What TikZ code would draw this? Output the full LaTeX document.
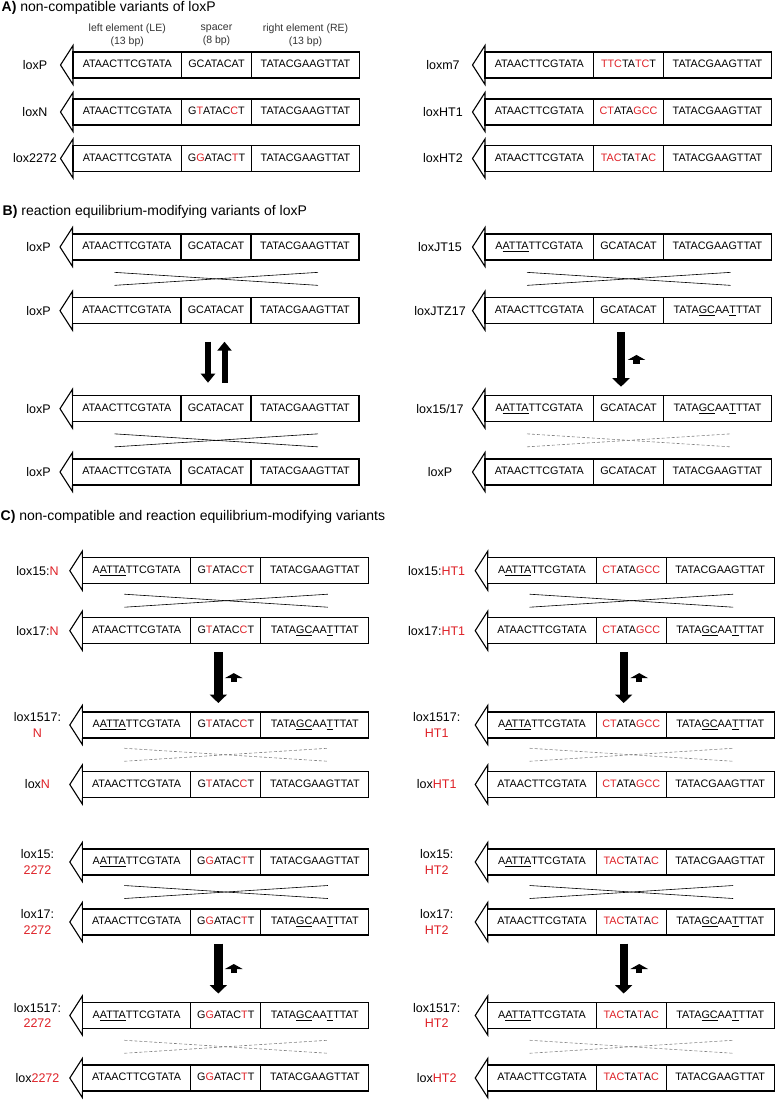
\documentclass[tikz,border=0pt]{standalone}
\usepackage{fontspec}
\setmainfont{Liberation Sans}
\usetikzlibrary{positioning,calc,arrows.meta}
\definecolor{loxred}{RGB}{222,32,38}

\newcommand{\mutred}[1]{\textcolor{loxred}{#1}}
\newcommand{\mutul}[1]{\underline{#1}}
% elements and spacers
\newcommand{\LEwt}{ATAACTTCGTATA}
\newcommand{\REwt}{TATACGAAGTTAT}
\newcommand{\LEjt}{A\mutul{ATTA}TTCGTATA}
\newcommand{\REjtz}{TATA\mutul{GC}AA\mutul{T}TTAT}
\newcommand{\SPwt}{GCATACAT}
\newcommand{\SPn}{G\mutred{T}ATAC\mutred{C}T}
\newcommand{\SPtt}{G\mutred{G}ATAC\mutred{T}T}
\newcommand{\SPm}{\mutred{TTC}TA\mutred{TC}T}
\newcommand{\SPha}{\mutred{CT}ATA\mutred{GCC}}
\newcommand{\SPhb}{\mutred{TAC}TA\mutred{T}A\mutred{C}}

% name, box x, y, label x, label, LE, spacer, RE
\newcommand{\loxsite}[8]{%
  \node[seqcell,minimum width=108.5pt,anchor=west] (#1-le) at (#2,#3) {#6};
  \node[seqcell,minimum width=70pt,right=0pt of #1-le] (#1-sp) {#7};
  \node[seqcell,minimum width=108pt,right=0pt of #1-sp] (#1-re) {#8};
  \draw[siteline] (#1-le.north west) -- ++(0,6.5pt) -- ([xshift=-12.5pt]#1-le.west)
    -- ([yshift=-6.5pt]#1-le.south west) -- (#1-le.south west);
  \node[sitelabel] (#1-lab) at (#4,#3) {#5};
}
\newcommand{\crossover}[3]{%
  \coordinate (#1-#2-l) at ($(#1-le.south west)!.5!(#2-le.north west)$);
  \coordinate (#1-#2-r) at ($(#1-re.south east)!.5!(#2-re.north east)$);
  \draw[#3] ([shift={(42pt,6.5pt)}]#1-#2-l) -- ([shift={(-41pt,-6.5pt)}]#1-#2-r);
  \draw[#3] ([shift={(42pt,-6.5pt)}]#1-#2-l) -- ([shift={(-41pt,6.5pt)}]#1-#2-r);
}
\newcommand{\recomb}[2]{%
  \coordinate (#1-go) at ([xshift=-7.5pt,yshift=-8.5pt]#1-sp.south);
  \coordinate (#2-in) at ([xshift=-7.5pt,yshift=9pt]#2-sp.north);
  \draw[bigarrow] (#1-go) -- (#2-in);
  \coordinate (#1-#2-m) at ($(#1-go)!.5!(#2-in)$);
  \draw[nudge] ([xshift=15.5pt,yshift=-4.5pt]#1-#2-m) -- ([xshift=15.5pt,yshift=4.5pt]#1-#2-m);
}

\tikzset{
  seqcell/.style={draw,line width=1.1pt,minimum height=26pt,inner sep=0pt,outer sep=0pt,
    text height=7.6pt,text depth=2pt,font=\fontsize{10.8}{12}\selectfont},
  siteline/.style={line width=1.1pt,line join=miter},
  sitelabel/.style={align=center,inner sep=0pt,font=\fontsize{12.5}{15.3}\selectfont},
  headtext/.style={align=center,inner sep=0pt,text=black!80,font=\fontsize{10.5}{12.7}\selectfont},
  titletext/.style={inner sep=0pt,font=\fontsize{14}{16}\selectfont},
  xsolid/.style={line width=0.6pt},
  xdash/.style={line width=0.6pt,gray,dash pattern=on 3pt off 2pt},
  bigarrow/.style={line width=8.4pt,-{Triangle[length=8.5pt,width=17pt]}},
  eqarrow/.style={line width=6pt,-{Triangle[length=9pt,width=14pt]}},
  nudge/.style={line width=6.5pt,-{Triangle[length=5pt,width=17.5pt]}}
}

\begin{document}
\begin{tikzpicture}[x=1pt,y=-1pt]
\useasboundingbox (0,0) rectangle (776,1100);

\node[titletext,anchor=base west] (titleA) at (1.5,12) {\textbf{A)} non-compatible variants of loxP};
\loxsite{ap}{73}{65}{35}{loxP}{\LEwt}{\SPwt}{\REwt}
\loxsite{an}{73}{112}{35}{loxN}{\LEwt}{\SPn}{\REwt}
\loxsite{att}{73}{158.5}{35}{lox2272}{\LEwt}{\SPtt}{\REwt}
\loxsite{am}{485}{65}{443}{loxm7}{\LEwt}{\SPm}{\REwt}
\loxsite{aha}{485}{112}{443}{loxHT1}{\LEwt}{\SPha}{\REwt}
\loxsite{ahb}{485}{158.5}{443}{loxHT2}{\LEwt}{\SPhb}{\REwt}
\node[headtext] (headle) at ([yshift=17pt]ap-le.north) {left element (LE)\\(13 bp)};
\node[headtext] (headsp) at ([yshift=17pt]ap-sp.north) {spacer\\(8 bp)};
\node[headtext] (headre) at ([yshift=17pt]ap-re.north) {right element (RE)\\(13 bp)};

\node[titletext,anchor=base west] (titleB) at (2.5,215.5) {\textbf{B)} reaction equilibrium-modifying variants of loxP};
\loxsite{bp1}{72.5}{247}{38.5}{loxP}{\LEwt}{\SPwt}{\REwt}
\loxsite{bp2}{72.5}{310.7}{38.5}{loxP}{\LEwt}{\SPwt}{\REwt}
\loxsite{bp3}{72.5}{408.7}{38.5}{loxP}{\LEwt}{\SPwt}{\REwt}
\loxsite{bp4}{72.5}{472}{38.5}{loxP}{\LEwt}{\SPwt}{\REwt}
\crossover{bp1}{bp2}{xsolid}
\crossover{bp3}{bp4}{xsolid}
\draw[eqarrow] ([xshift=-8pt,yshift=-18pt]bp2-sp.south) -- ([xshift=-8pt,yshift=13pt]bp3-sp.north);
\draw[eqarrow] ([xshift=8.5pt,yshift=13pt]bp3-sp.north) -- ([xshift=8.5pt,yshift=-18pt]bp2-sp.south);
\loxsite{bjt}{485}{247}{440}{loxJT15}{\LEjt}{\SPwt}{\REwt}
\loxsite{bjz}{485}{310.7}{440}{loxJTZ17}{\LEwt}{\SPwt}{\REjtz}
\loxsite{bls}{485}{408.7}{440}{lox15/17}{\LEjt}{\SPwt}{\REjtz}
\loxsite{bxp}{485}{472}{440}{loxP}{\LEwt}{\SPwt}{\REwt}
\crossover{bjt}{bjz}{xsolid}
\crossover{bls}{bxp}{xdash}
\recomb{bjz}{bls}

\node[titletext,anchor=base west] (titleC) at (0.5,520) {\textbf{C)} non-compatible and reaction equilibrium-modifying variants};
\loxsite{cn1}{82.3}{570.7}{37.5}{lox15:\mutred{N}}{\LEjt}{\SPn}{\REwt}
\loxsite{cn2}{82.3}{630.7}{37.5}{lox17:\mutred{N}}{\LEwt}{\SPn}{\REjtz}
\loxsite{cn3}{82.3}{725}{37.5}{lox1517:\\\mutred{N}}{\LEjt}{\SPn}{\REjtz}
\loxsite{cn4}{82.3}{784.5}{37.5}{lox\mutred{N}}{\LEwt}{\SPn}{\REwt}
\crossover{cn1}{cn2}{xsolid}
\crossover{cn3}{cn4}{xdash}
\recomb{cn2}{cn3}
\loxsite{ct1}{82.3}{862}{37.5}{lox15:\\\mutred{2272}}{\LEjt}{\SPtt}{\REwt}
\loxsite{ct2}{82.3}{922}{37.5}{lox17:\\\mutred{2272}}{\LEwt}{\SPtt}{\REjtz}
\loxsite{ct3}{82.3}{1015.5}{37.5}{lox1517:\\\mutred{2272}}{\LEjt}{\SPtt}{\REjtz}
\loxsite{ct4}{82.3}{1078}{37.5}{lox\mutred{2272}}{\LEwt}{\SPtt}{\REwt}
\crossover{ct1}{ct2}{xsolid}
\crossover{ct3}{ct4}{xdash}
\recomb{ct2}{ct3}
\loxsite{ch1}{487.7}{570.7}{436.7}{lox15:\mutred{HT1}}{\LEjt}{\SPha}{\REwt}
\loxsite{ch2}{487.7}{630.7}{436.7}{lox17:\mutred{HT1}}{\LEwt}{\SPha}{\REjtz}
\loxsite{ch3}{487.7}{725}{436.7}{lox1517:\\\mutred{HT1}}{\LEjt}{\SPha}{\REjtz}
\loxsite{ch4}{487.7}{784.5}{436.7}{lox\mutred{HT1}}{\LEwt}{\SPha}{\REwt}
\crossover{ch1}{ch2}{xsolid}
\crossover{ch3}{ch4}{xdash}
\recomb{ch2}{ch3}
\loxsite{cg1}{487.7}{862}{436.7}{lox15:\\\mutred{HT2}}{\LEjt}{\SPhb}{\REwt}
\loxsite{cg2}{487.7}{922}{436.7}{lox17:\\\mutred{HT2}}{\LEwt}{\SPhb}{\REjtz}
\loxsite{cg3}{487.7}{1015.5}{436.7}{lox1517:\\\mutred{HT2}}{\LEjt}{\SPhb}{\REjtz}
\loxsite{cg4}{487.7}{1078}{436.7}{lox\mutred{HT2}}{\LEwt}{\SPhb}{\REwt}
\crossover{cg1}{cg2}{xsolid}
\crossover{cg3}{cg4}{xdash}
\recomb{cg2}{cg3}
\end{tikzpicture}
\end{document}
